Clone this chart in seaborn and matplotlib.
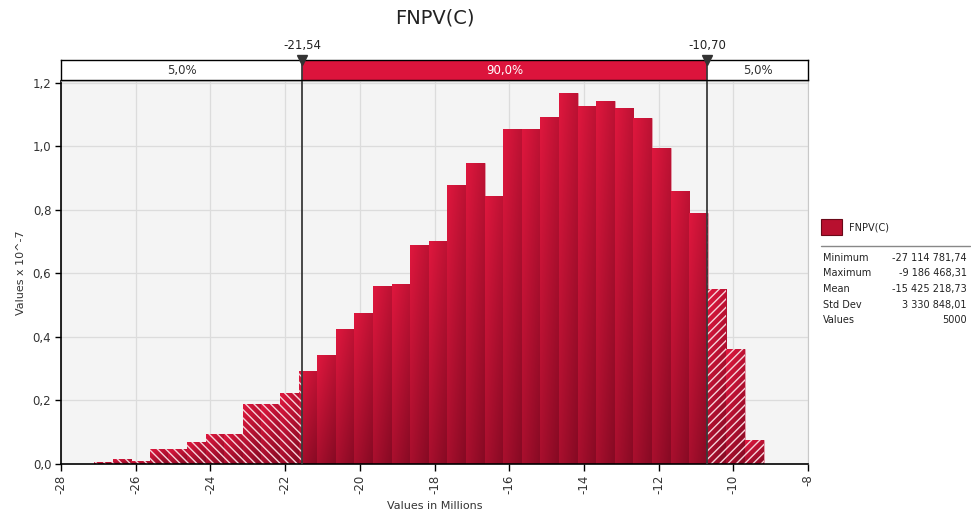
import numpy as np
import pandas as pd
import matplotlib
matplotlib.use("Agg")
import matplotlib.pyplot as plt
import seaborn as sns
from matplotlib.patches import Rectangle
from matplotlib.lines import Line2D

sns.set_theme(style="white")
plt.rcParams['font.family'] = ['DejaVu Sans']
plt.rcParams['hatch.linewidth'] = 1.0

# datos (millones / densidad x 10^-7)
stat_min = -27.11478174
stat_max = -9.18646831
n_bins = 36
heights = [0.006, 0.014, 0.008, 0.045, 0.045, 0.069, 0.092, 0.092, 0.188, 0.188,
           0.222, 0.292, 0.343, 0.424, 0.473, 0.561, 0.566, 0.689, 0.700, 0.877,
           0.949, 0.844, 1.054, 1.054, 1.091, 1.168, 1.126, 1.143, 1.120, 1.088,
           0.995, 0.860, 0.789, 0.550, 0.361, 0.074]
p5 = -21.54
p95 = -10.70
p5_label = "-21,54"
p95_label = "-10,70"
band_labels = ["5,0%", "90,0%", "5,0%"]
stat_labels = ["Minimum", "Maximum", "Mean", "Std Dev", "Values"]
stat_values = ["-27 114 781,74", "-9 186 468,31", "-15 425 218,73", "3 330 848,01", "5000"]
xticks = [-28, -26, -24, -22, -20, -18, -16, -14, -12, -10, -8]
yticks = [0.0, 0.2, 0.4, 0.6, 0.8, 1.0, 1.2]

edges = np.linspace(stat_min, stat_max, n_bins + 1)
df = pd.DataFrame({'value': (edges[:-1] + edges[1:]) / 2, 'density': heights})

W, H = 971, 520
fig = plt.figure(figsize=(W / 100, H / 100), dpi=100)
ax = fig.add_axes([61 / W, 1 - 463.5 / H, 747 / W, 382.5 / H])
ax.set_facecolor('#f4f4f4')

# barras base
sns.histplot(data=df, x='value', weights='density', bins=list(edges), ax=ax,
             color='#b8102f', alpha=1, edgecolor='#e7a3b0', linewidth=0.5)
bars = list(ax.patches)

# degradado dentro de cada barra
bright = np.array([0.87, 0.09, 0.24])
dark = np.array([0.53, 0.04, 0.14])
v = np.linspace(1, 0, 40)[:, None]
h = np.linspace(0, 1, 12)[None, :]
t = 0.62 * v + 0.38 * (1 - h)
grad = dark + (bright - dark) * t[..., None]
for b in bars:
    x0 = b.get_x()
    im = ax.imshow(grad, extent=(x0, x0 + b.get_width(), 0, b.get_height()),
                   aspect='auto', interpolation='bilinear', zorder=1.5)
    im.set_clip_path(b)

# rayado en las colas
for hatch, clip_x0, clip_x1 in [('\\\\\\\\', -28, p5), ('////', p95, -8)]:
    n0 = len(ax.patches)
    sns.histplot(data=df, x='value', weights='density', bins=list(edges), ax=ax,
                 color='#b8102f', alpha=1)
    clip = Rectangle((clip_x0, 0), clip_x1 - clip_x0, 2, transform=ax.transData)
    for p in ax.patches[n0:]:
        p.set_facecolor('none')
        p.set_edgecolor('#f6d3da')
        p.set_linewidth(0)
        p.set_hatch(hatch)
        p.set_zorder(2)
        p.set_clip_path(clip)

ax.axvline(p5, color='#3a3a3a', lw=1.3, zorder=4)
ax.axvline(p95, color='#3a3a3a', lw=1.3, zorder=4)

ax.set_xlim(-28, -8)
ax.set_ylim(0, 1.206)
ax.set_xticks(xticks, labels=[str(x) for x in xticks])
ax.set_yticks(yticks, labels=[f"{y:.1f}".replace('.', ',') for y in yticks])
ax.grid(True, color='#dcdcdc', lw=0.9)
ax.set_axisbelow(True)
for s in ['left', 'bottom']:
    ax.spines[s].set_color('black')
    ax.spines[s].set_linewidth(1.2)
for s in ['top', 'right']:
    ax.spines[s].set_color('#c8c8c8')
    ax.spines[s].set_linewidth(0.8)
ax.tick_params(axis='x', direction='out', length=5, width=1, color='black',
               labelrotation=90, labelsize=8.5, pad=3, labelcolor='#333333', bottom=True)
ax.tick_params(axis='y', direction='out', length=4, width=1, color='black',
               labelsize=8.5, pad=3, labelcolor='#333333', left=True)
ax.set_xlabel('Values in Millions', fontsize=8, color='#333333', labelpad=5)
ax.set_ylabel('Values x 10^-7', fontsize=8, color='#333333', labelpad=5)

# franja de percentiles
sax = fig.add_axes([61 / W, 1 - 79.5 / H, 747 / W, 20 / H])
sax.set_xlim(-28, -8)
sax.set_ylim(0, 1)
sax.set_facecolor('white')
sax.axvspan(p5, p95, color='#dc143c', lw=0)
sax.axvline(p5, color='#3a3a3a', lw=1.3)
sax.axvline(p95, color='#3a3a3a', lw=1.3)
sax.set_xticks([])
sax.set_yticks([])
for s in sax.spines.values():
    s.set_color('black')
    s.set_linewidth(1)
band_x = [(-28 + p5) / 2, (p5 + p95) / 2, (p95 - 8) / 2]
band_c = ['#333333', 'white', '#333333']
for bx, lab, c in zip(band_x, band_labels, band_c):
    sax.text(bx, 0.45, lab, ha='center', va='center', fontsize=8.5, color=c)
for px, lab in [(p5, p5_label), (p95, p95_label)]:
    sax.plot([px], [1], marker='v', markersize=7.5, color='#333333', clip_on=False, zorder=5)
    sax.text(px, 1.72, lab, ha='center', va='center', fontsize=8.5, color='#222222', clip_on=False)

fig.text(434.5 / W, 1 - 18 / H, 'FNPV(C)', ha='center', va='center', fontsize=14, color='#222222')

# leyenda y estadisticas
fig.add_artist(Rectangle((821 / W, 1 - 235 / H), 21 / W, 16 / H, transform=fig.transFigure,
                         facecolor='#b8102f', edgecolor='#6a0818', lw=0.8))
fig.text(849 / W, 1 - 228 / H, 'FNPV(C)', ha='left', va='center', fontsize=7, color='#222222')
fig.add_artist(Line2D([821 / W, 970 / W], [1 - 245.7 / H] * 2, color='#888888', lw=1))
row_y = [257.7, 273.3, 289.3, 305, 320]
for y, lab, val in zip(row_y, stat_labels, stat_values):
    fig.text(822.7 / W, 1 - y / H, lab, ha='left', va='center', fontsize=7, color='#222222')
    fig.text(966.7 / W, 1 - y / H, val, ha='right', va='center', fontsize=7, color='#222222')

fig.savefig('out.png', dpi=100)
